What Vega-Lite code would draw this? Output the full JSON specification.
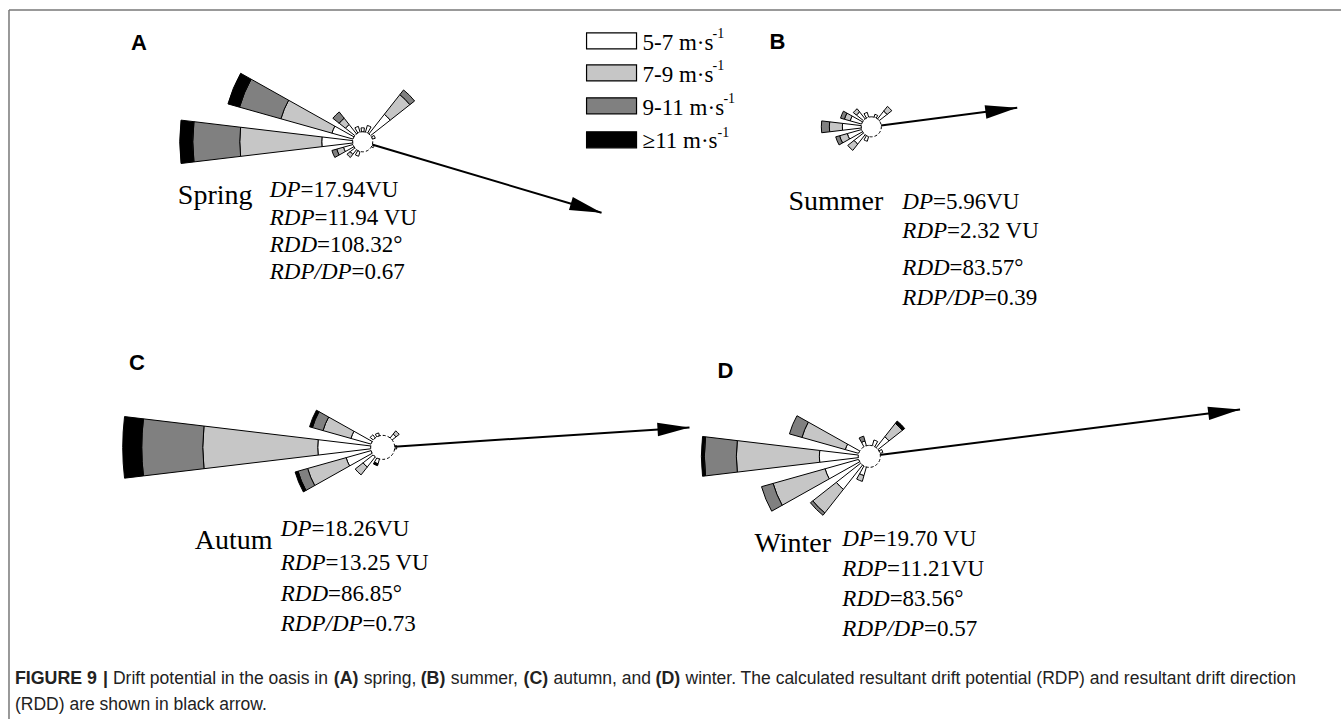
{
"$schema":"https://vega.github.io/schema/vega-lite/v6.json",
"width":1342,"height":720,"padding":0,
"autosize":{"type":"fit","contains":"padding"},
"background":"white",
"config":{"view":{"stroke":null}},
"datasets":{
"roses":[{"rose":"Spring","x":363,"y":142,"rc":10},{"rose":"Summer","x":872,"y":127,"rc":10},{"rose":"Autumn","x":383,"y":448,"rc":12},{"rose":"Winter","x":870,"y":457,"rc":11}],
"bars":[
{"rose":"Spring","dir":270,"cls":"5-7","r0":10,"r1":41},
{"rose":"Spring","dir":270,"cls":"7-9","r0":41,"r1":123},
{"rose":"Spring","dir":270,"cls":"9-11","r0":123,"r1":170},
{"rose":"Spring","dir":270,"cls":"≥11","r0":170,"r1":183},
{"rose":"Spring","dir":292.5,"cls":"5-7","r0":10,"r1":32},
{"rose":"Spring","dir":292.5,"cls":"7-9","r0":32,"r1":85},
{"rose":"Spring","dir":292.5,"cls":"9-11","r0":85,"r1":128},
{"rose":"Spring","dir":292.5,"cls":"≥11","r0":128,"r1":140},
{"rose":"Spring","dir":315,"cls":"5-7","r0":10,"r1":22},
{"rose":"Spring","dir":315,"cls":"7-9","r0":22,"r1":30},
{"rose":"Spring","dir":315,"cls":"9-11","r0":30,"r1":38},
{"rose":"Spring","dir":337.5,"cls":"5-7","r0":10,"r1":16},
{"rose":"Spring","dir":0,"cls":"5-7","r0":10,"r1":14},
{"rose":"Spring","dir":22.5,"cls":"5-7","r0":10,"r1":17},
{"rose":"Spring","dir":45,"cls":"5-7","r0":10,"r1":35},
{"rose":"Spring","dir":45,"cls":"7-9","r0":35,"r1":60},
{"rose":"Spring","dir":45,"cls":"9-11","r0":60,"r1":66},
{"rose":"Spring","dir":67.5,"cls":"5-7","r0":10,"r1":13},
{"rose":"Spring","dir":112.5,"cls":"5-7","r0":10,"r1":12},
{"rose":"Spring","dir":202.5,"cls":"5-7","r0":10,"r1":15},
{"rose":"Spring","dir":225,"cls":"5-7","r0":10,"r1":16},
{"rose":"Spring","dir":225,"cls":"7-9","r0":16,"r1":20},
{"rose":"Spring","dir":247.5,"cls":"5-7","r0":10,"r1":20},
{"rose":"Spring","dir":247.5,"cls":"7-9","r0":20,"r1":27},
{"rose":"Spring","dir":247.5,"cls":"9-11","r0":27,"r1":32},
{"rose":"Summer","dir":270,"cls":"5-7","r0":10,"r1":29},
{"rose":"Summer","dir":270,"cls":"7-9","r0":29,"r1":42},
{"rose":"Summer","dir":270,"cls":"9-11","r0":42,"r1":50},
{"rose":"Summer","dir":292.5,"cls":"5-7","r0":10,"r1":22},
{"rose":"Summer","dir":292.5,"cls":"7-9","r0":22,"r1":28},
{"rose":"Summer","dir":292.5,"cls":"9-11","r0":28,"r1":32},
{"rose":"Summer","dir":315,"cls":"5-7","r0":10,"r1":19},
{"rose":"Summer","dir":315,"cls":"7-9","r0":19,"r1":23},
{"rose":"Summer","dir":337.5,"cls":"5-7","r0":10,"r1":15},
{"rose":"Summer","dir":22.5,"cls":"5-7","r0":10,"r1":13},
{"rose":"Summer","dir":45,"cls":"5-7","r0":10,"r1":20},
{"rose":"Summer","dir":45,"cls":"7-9","r0":20,"r1":26},
{"rose":"Summer","dir":202.5,"cls":"5-7","r0":10,"r1":15},
{"rose":"Summer","dir":225,"cls":"5-7","r0":10,"r1":22},
{"rose":"Summer","dir":225,"cls":"7-9","r0":22,"r1":30},
{"rose":"Summer","dir":247.5,"cls":"5-7","r0":10,"r1":25},
{"rose":"Summer","dir":247.5,"cls":"7-9","r0":25,"r1":33},
{"rose":"Summer","dir":247.5,"cls":"9-11","r0":33,"r1":37},
{"rose":"Autumn","dir":270,"cls":"5-7","r0":12,"r1":65},
{"rose":"Autumn","dir":270,"cls":"7-9","r0":65,"r1":180},
{"rose":"Autumn","dir":270,"cls":"9-11","r0":180,"r1":241},
{"rose":"Autumn","dir":270,"cls":"≥11","r0":241,"r1":260},
{"rose":"Autumn","dir":292.5,"cls":"5-7","r0":12,"r1":33},
{"rose":"Autumn","dir":292.5,"cls":"7-9","r0":33,"r1":62},
{"rose":"Autumn","dir":292.5,"cls":"9-11","r0":62,"r1":73},
{"rose":"Autumn","dir":292.5,"cls":"≥11","r0":73,"r1":76},
{"rose":"Autumn","dir":315,"cls":"5-7","r0":12,"r1":16},
{"rose":"Autumn","dir":337.5,"cls":"5-7","r0":12,"r1":15},
{"rose":"Autumn","dir":45,"cls":"5-7","r0":12,"r1":17},
{"rose":"Autumn","dir":45,"cls":"7-9","r0":17,"r1":21},
{"rose":"Autumn","dir":90,"cls":"5-7","r0":12,"r1":14},
{"rose":"Autumn","dir":202.5,"cls":"5-7","r0":12,"r1":17},
{"rose":"Autumn","dir":202.5,"cls":"≥11","r0":17,"r1":19},
{"rose":"Autumn","dir":225,"cls":"5-7","r0":12,"r1":25},
{"rose":"Autumn","dir":225,"cls":"7-9","r0":25,"r1":35},
{"rose":"Autumn","dir":247.5,"cls":"5-7","r0":12,"r1":38},
{"rose":"Autumn","dir":247.5,"cls":"7-9","r0":38,"r1":78},
{"rose":"Autumn","dir":247.5,"cls":"9-11","r0":78,"r1":88},
{"rose":"Autumn","dir":247.5,"cls":"≥11","r0":88,"r1":91},
{"rose":"Winter","dir":270,"cls":"5-7","r0":11,"r1":50},
{"rose":"Winter","dir":270,"cls":"7-9","r0":50,"r1":133},
{"rose":"Winter","dir":270,"cls":"9-11","r0":133,"r1":165},
{"rose":"Winter","dir":270,"cls":"≥11","r0":165,"r1":168},
{"rose":"Winter","dir":292.5,"cls":"5-7","r0":11,"r1":25},
{"rose":"Winter","dir":292.5,"cls":"7-9","r0":25,"r1":70},
{"rose":"Winter","dir":292.5,"cls":"9-11","r0":70,"r1":83},
{"rose":"Winter","dir":337.5,"cls":"5-7","r0":11,"r1":16},
{"rose":"Winter","dir":337.5,"cls":"9-11","r0":16,"r1":21},
{"rose":"Winter","dir":22.5,"cls":"5-7","r0":11,"r1":17},
{"rose":"Winter","dir":45,"cls":"5-7","r0":11,"r1":25},
{"rose":"Winter","dir":45,"cls":"7-9","r0":25,"r1":42},
{"rose":"Winter","dir":45,"cls":"≥11","r0":42,"r1":45},
{"rose":"Winter","dir":67.5,"cls":"5-7","r0":11,"r1":14},
{"rose":"Winter","dir":202.5,"cls":"5-7","r0":11,"r1":20},
{"rose":"Winter","dir":202.5,"cls":"7-9","r0":20,"r1":26},
{"rose":"Winter","dir":225,"cls":"5-7","r0":11,"r1":42},
{"rose":"Winter","dir":225,"cls":"7-9","r0":42,"r1":72},
{"rose":"Winter","dir":225,"cls":"9-11","r0":72,"r1":75},
{"rose":"Winter","dir":247.5,"cls":"5-7","r0":11,"r1":46},
{"rose":"Winter","dir":247.5,"cls":"7-9","r0":46,"r1":100},
{"rose":"Winter","dir":247.5,"cls":"9-11","r0":100,"r1":112}
],
"arrows":[
{"rose":"Spring","x":363,"y":142,"x2":602,"y2":213,"dir":106.6},
{"rose":"Summer","x":872,"y":127,"x2":1018,"y2":108,"dir":82.6},
{"rose":"Autumn","x":383,"y":448,"x2":690,"y2":428,"dir":86.3},
{"rose":"Winter","x":870,"y":457,"x2":1241,"y2":410,"dir":82.8}
],
"legend":[
{"cls":"5-7","x":587,"x2":637,"y":33,"y2":49},
{"cls":"7-9","x":587,"x2":637,"y":65,"y2":81},
{"cls":"9-11","x":587,"x2":637,"y":98,"y2":114},
{"cls":"≥11","x":587,"x2":637,"y":132,"y2":148}
],
"legendText":[
{"t":"5-7 m·s","x":643,"y":50},
{"t":"7-9 m·s","x":643,"y":82},
{"t":"9-11 m·s","x":643,"y":115},
{"t":"≥11 m·s","x":643,"y":148}
],
"legendSup":[
{"t":"-1","x":713,"y":38},
{"t":"-1","x":713,"y":70},
{"t":"-1","x":724,"y":103},
{"t":"-1","x":718,"y":137}
],
"letters":[
{"t":"A","x":131,"y":50},{"t":"B","x":770,"y":49},{"t":"C","x":129,"y":371},{"t":"D","x":718,"y":379}
],
"seasons":[
{"t":"Spring","x":178,"y":204},{"t":"Summer","x":789,"y":210},{"t":"Autum","x":195,"y":550},{"t":"Winter","x":755,"y":553}
],
"statsItalic":[
{"t":"DP","x":270,"y":197},{"t":"RDP","x":270,"y":225},{"t":"RDD","x":270,"y":252},{"t":"RDP/DP","x":270,"y":279},
{"t":"DP","x":903,"y":209},{"t":"RDP","x":903,"y":238},{"t":"RDD","x":903,"y":275},{"t":"RDP/DP","x":903,"y":305},
{"t":"DP","x":281,"y":537},{"t":"RDP","x":281,"y":571},{"t":"RDD","x":281,"y":602},{"t":"RDP/DP","x":281,"y":632},
{"t":"DP","x":843,"y":547},{"t":"RDP","x":843,"y":577},{"t":"RDD","x":843,"y":607},{"t":"RDP/DP","x":843,"y":637}
],
"statsRegular":[
{"t":"=17.94VU","x":300.7,"y":197},{"t":"=11.94 VU","x":314.7,"y":225},{"t":"=108.32°","x":317.3,"y":252},{"t":"=0.67","x":351.8,"y":279},
{"t":"=5.96VU","x":933.7,"y":209},{"t":"=2.32 VU","x":947.7,"y":238},{"t":"=83.57°","x":950.3,"y":275},{"t":"=0.39","x":984.8,"y":305},
{"t":"=18.26VU","x":311.7,"y":537},{"t":"=13.25 VU","x":325.7,"y":571},{"t":"=86.85°","x":328.3,"y":602},{"t":"=0.73","x":362.8,"y":632},
{"t":"=19.70 VU","x":873.7,"y":547},{"t":"=11.21VU","x":887.7,"y":577},{"t":"=83.56°","x":890.3,"y":607},{"t":"=0.57","x":924.8,"y":637}
],
"captionBold":[
{"t":"FIGURE 9","x":15,"y":685},{"t":"|","x":103,"y":685},{"t":"(A)","x":334,"y":685},{"t":"(B)","x":421,"y":685},{"t":"(C)","x":524,"y":685},{"t":"(D)","x":656,"y":685}
],
"captionRegular":[
{"t":"Drift potential in the oasis in","x":113,"y":685},
{"t":"spring,","x":364,"y":685},
{"t":"summer,","x":451,"y":685},
{"t":"autumn, and","x":554,"y":685},
{"t":"winter. The calculated resultant drift potential (RDP) and resultant drift direction","x":686,"y":685},
{"t":"(RDD) are shown in black arrow.","x":15,"y":711}
],
"frame":[{"x":9,"y":10,"x2":1342,"y2":10},{"x":9,"y":10,"x2":9,"y2":720}]
},
"encoding":{
"x":{"field":"x","type":"quantitative","scale":{"type":"linear","domain":[0,1342],"nice":false,"zero":false},"axis":null},
"y":{"field":"y","type":"quantitative","scale":{"type":"linear","domain":[0,720],"nice":false,"zero":false,"reverse":true},"axis":null}
},
"layer":[
{"data":{"name":"frame"},"mark":{"type":"rule","color":"#777777","strokeWidth":1.5},
 "encoding":{"x2":{"field":"x2"},"y2":{"field":"y2"}}},
{"data":{"name":"bars"},
 "transform":[{"lookup":"rose","from":{"data":{"name":"roses"},"key":"rose","fields":["x","y"]}}],
 "mark":{"type":"arc","stroke":"black","strokeWidth":1,"thetaOffset":-0.1187,"theta2Offset":0.1187},
 "encoding":{
  "theta":{"field":"dir","type":"quantitative","stack":null,"scale":{"type":"linear","domain":[0,360],"range":[0,6.283185307179586],"zero":false}},
  "theta2":{"field":"dir"},
  "radius":{"field":"r1","type":"quantitative","stack":null,"scale":{"type":"linear","domain":[0,300],"range":[0,300],"zero":true}},
  "radius2":{"field":"r0"},
  "color":{"field":"cls","type":"nominal","scale":{"domain":["5-7","7-9","9-11","≥11"],"range":["#ffffff","#c6c6c6","#808080","#000000"]},"legend":null}
 }},
{"data":{"name":"arrows"},"mark":{"type":"rule","color":"black","strokeWidth":2},
 "encoding":{"x2":{"field":"x2"},"y2":{"field":"y2"}}},
{"data":{"name":"roses"},
 "mark":{"type":"arc","theta":0,"theta2":6.283185307179586,"fill":"white","stroke":"black","strokeWidth":1,"strokeDash":[3,2]},
 "encoding":{"radius":{"field":"rc","type":"quantitative","stack":null}}},
{"data":{"name":"arrows"},
 "mark":{"type":"point","shape":"M0,0L-2,-0.42L-2,0.42Z","size":1024,"filled":true,"color":"black","opacity":1,"strokeWidth":0},
 "encoding":{
  "x":{"field":"x2","type":"quantitative"},
  "y":{"field":"y2","type":"quantitative"},
  "angle":{"field":"dir","type":"quantitative","scale":{"domain":[90,450],"range":[0,360]}}
 }},
{"data":{"name":"legend"},"mark":{"type":"rect","stroke":"black","strokeWidth":1.2},
 "encoding":{"x2":{"field":"x2"},"y2":{"field":"y2"},"color":{"field":"cls","type":"nominal","legend":null}}},
{"data":{"name":"legendText"},"mark":{"type":"text","font":"Liberation Serif","fontSize":23,"align":"left","baseline":"alphabetic","color":"black"},
 "encoding":{"text":{"field":"t"}}},
{"data":{"name":"legendSup"},"mark":{"type":"text","font":"Liberation Serif","fontSize":14,"align":"left","baseline":"alphabetic","color":"black"},
 "encoding":{"text":{"field":"t"}}},
{"data":{"name":"letters"},"mark":{"type":"text","font":"Liberation Sans","fontSize":22,"fontWeight":"bold","align":"left","baseline":"alphabetic","color":"black"},
 "encoding":{"text":{"field":"t"}}},
{"data":{"name":"seasons"},"mark":{"type":"text","font":"Liberation Serif","fontSize":28,"align":"left","baseline":"alphabetic","color":"black"},
 "encoding":{"text":{"field":"t"}}},
{"data":{"name":"statsItalic"},"mark":{"type":"text","font":"Liberation Serif","fontSize":23,"fontStyle":"italic","align":"left","baseline":"alphabetic","color":"black"},
 "encoding":{"text":{"field":"t"}}},
{"data":{"name":"statsRegular"},"mark":{"type":"text","font":"Liberation Serif","fontSize":23,"align":"left","baseline":"alphabetic","color":"black"},
 "encoding":{"text":{"field":"t"}}},
{"data":{"name":"captionBold"},"mark":{"type":"text","font":"Liberation Sans","fontSize":17.8,"fontWeight":"bold","align":"left","baseline":"alphabetic","color":"#222222"},
 "encoding":{"text":{"field":"t"}}},
{"data":{"name":"captionRegular"},"mark":{"type":"text","font":"Liberation Sans","fontSize":17.5,"align":"left","baseline":"alphabetic","color":"#222222"},
 "encoding":{"text":{"field":"t"}}}
]
}
